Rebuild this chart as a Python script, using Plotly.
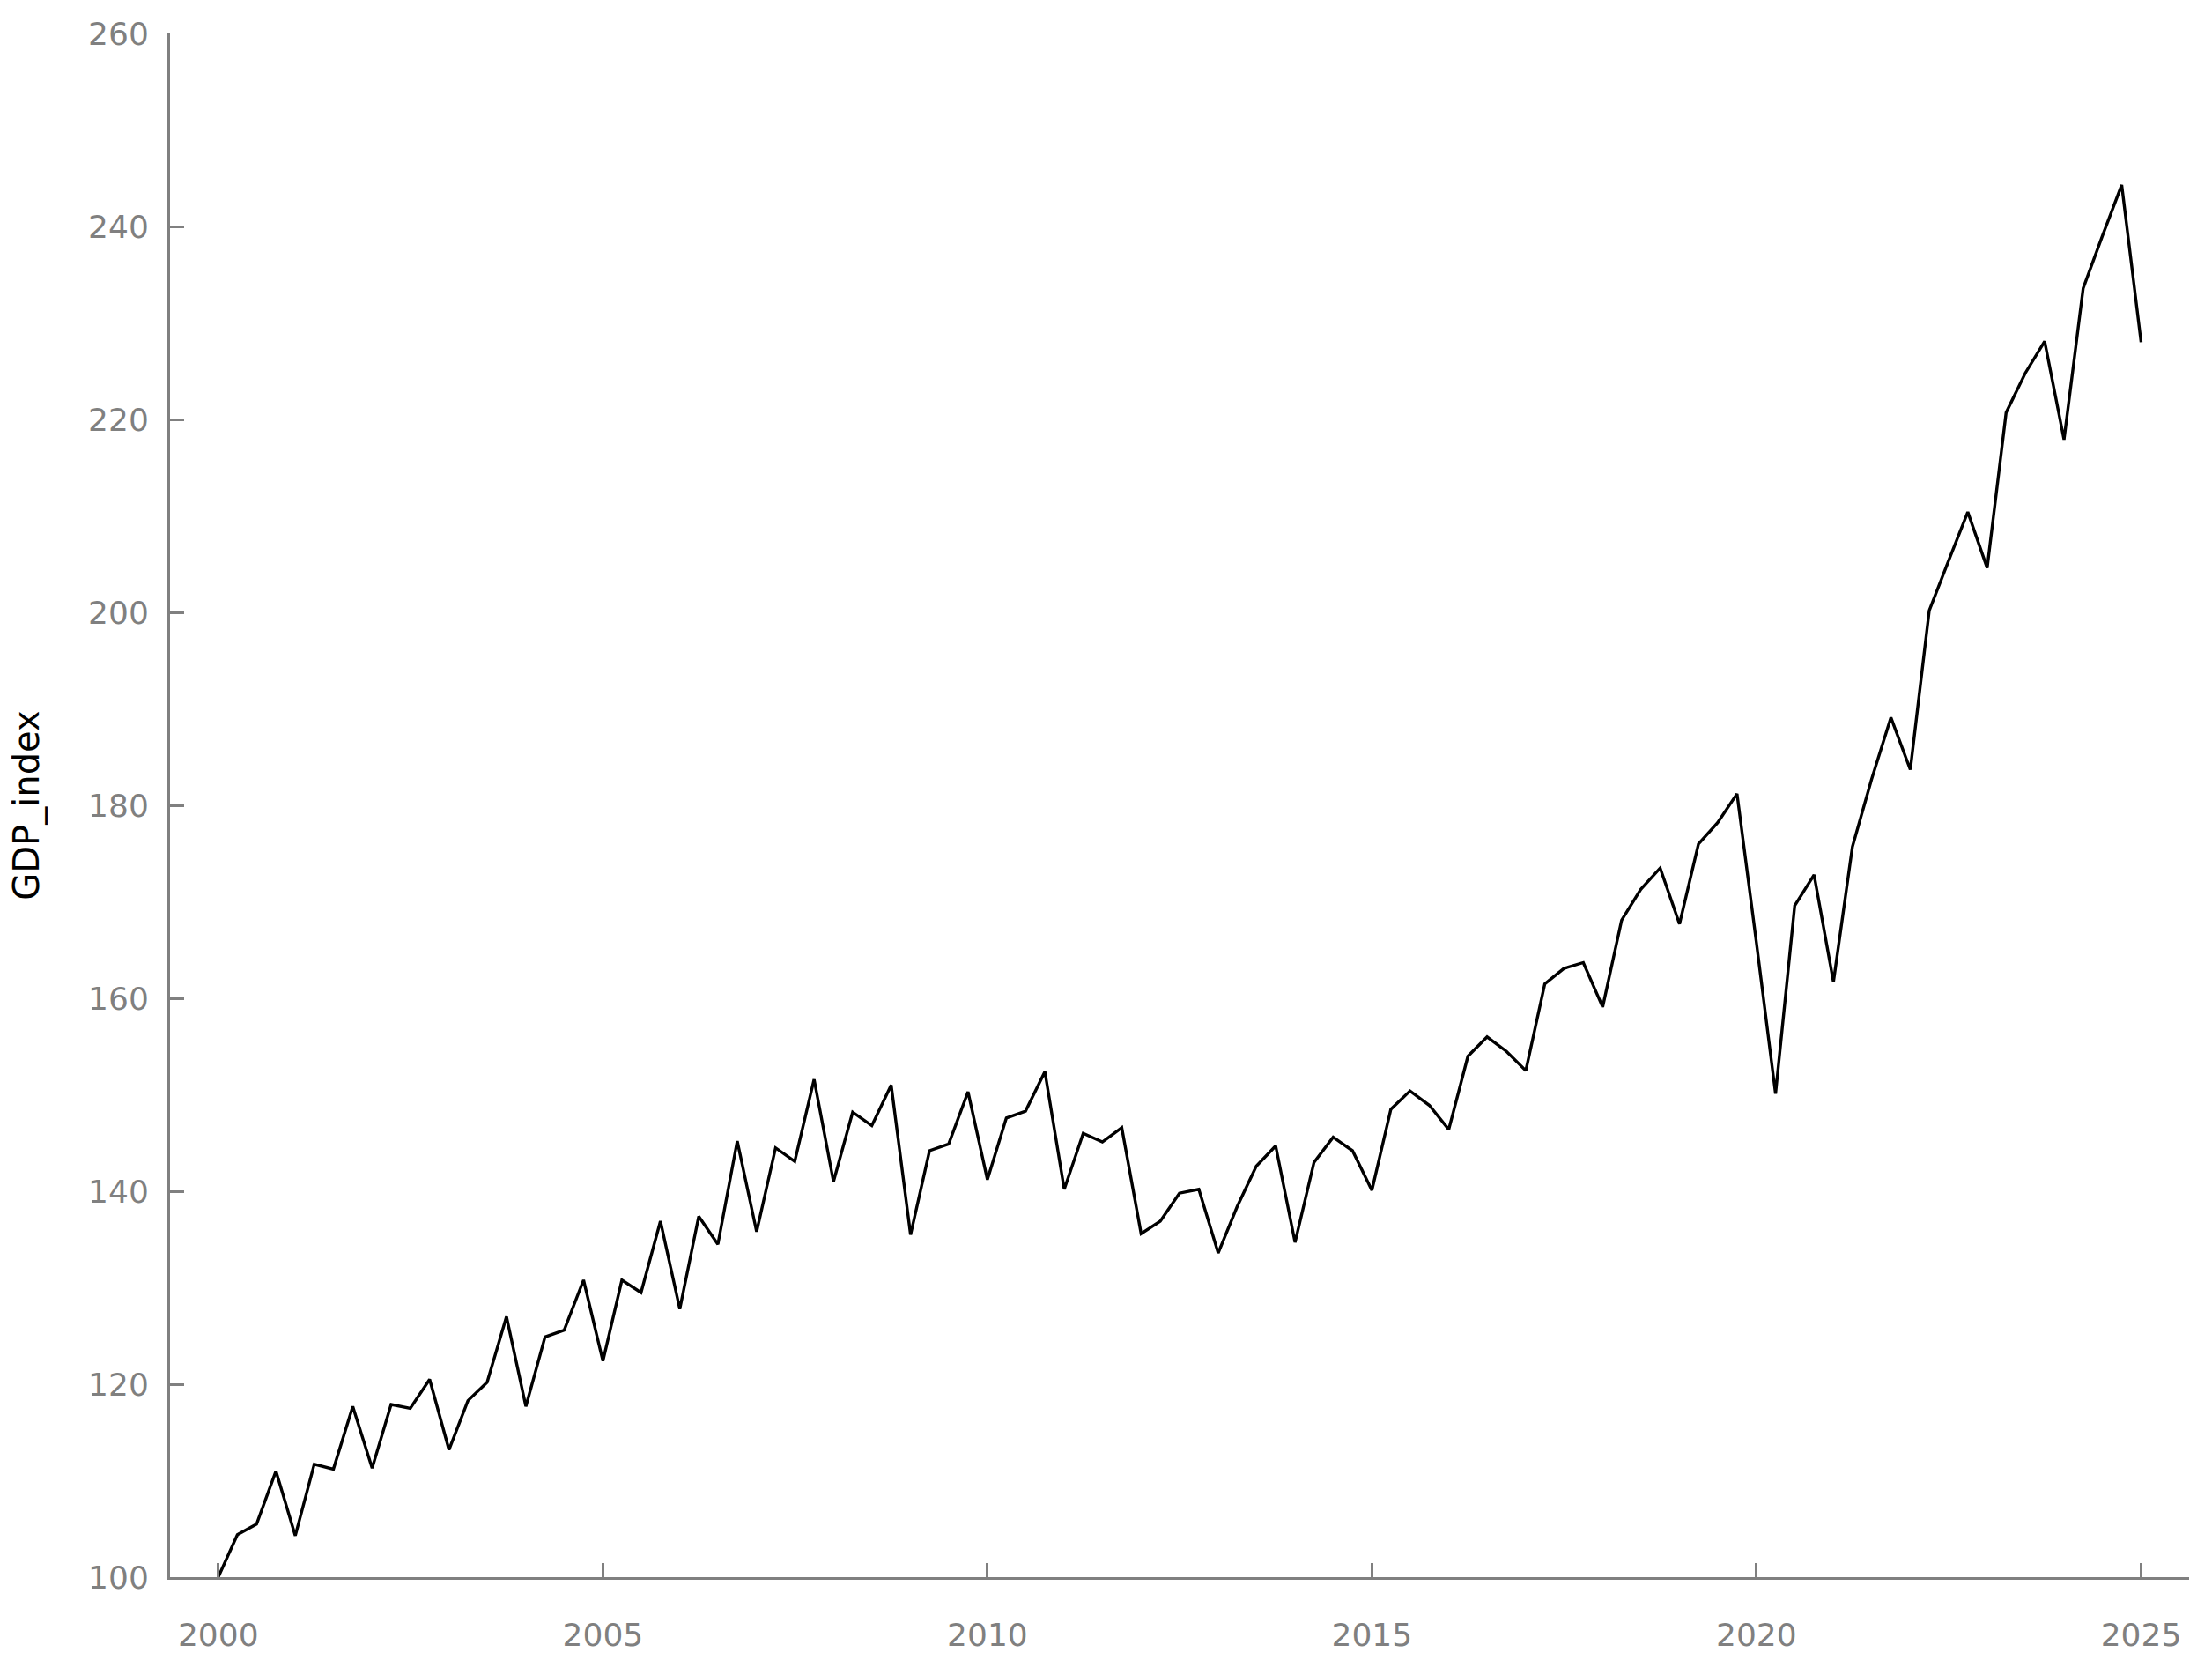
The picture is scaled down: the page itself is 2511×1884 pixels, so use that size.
import pandas as pd
import plotly.graph_objects as go

# quarterly GDP index, 2000Q1 .. 2025Q1
quarters = pd.date_range("2000-01-01", periods=101, freq="QS")
gdp_index = [
    100.0, 104.4, 105.5, 111.0, 104.3, 111.7, 111.2, 117.7, 111.3, 117.9,
    117.5, 120.5, 113.2, 118.3, 120.2, 127.0, 117.7, 124.9, 125.6, 130.8,
    122.4, 130.8, 129.5, 136.9, 127.8, 137.4, 134.5, 145.2, 135.8, 144.5,
    143.1, 151.6, 141.0, 148.2, 146.8, 151.0, 135.5, 144.2, 144.9, 150.3,
    141.2, 147.6, 148.3, 152.4, 140.2, 146.0, 145.1, 146.6, 135.6, 136.9,
    139.8, 140.2, 133.6, 138.4, 142.6, 144.7, 134.7, 143.0, 145.6, 144.2,
    140.1, 148.5, 150.4, 148.9, 146.4, 154.0, 156.0, 154.5, 152.5, 161.5,
    163.1, 163.7, 159.1, 168.1, 171.3, 173.5, 167.7, 176.0, 178.2, 181.2,
    165.8, 150.1, 169.6, 172.8, 161.7, 175.7, 182.7, 189.1, 183.7, 200.2,
    205.3, 210.4, 204.6, 220.7, 224.8, 228.1, 217.9, 233.6, 239.0, 244.3,
    228.0,
]
y_ticks = [100, 120, 140, 160, 180, 200, 220, 240, 260]

AXIS_GREY = "#808080"
FONT = "Verdana, DejaVu Sans, sans-serif"
TICK_FONT = dict(family=FONT, size=36, color=AXIS_GREY)

fig = go.Figure()
fig.add_trace(go.Scatter(x=quarters, y=gdp_index, mode="lines",
                         line=dict(color="black", width=3.4), showlegend=False))

fig.update_layout(
    width=2511, height=1884,
    margin=dict(l=193, r=26, t=38, b=94),
    plot_bgcolor="white", paper_bgcolor="white",
    font=dict(family=FONT, size=36, color=AXIS_GREY),
)
fig.update_xaxes(
    type="date", range=["1999-05-17", "2025-08-17"],
    tick0="2000-01-01", dtick="M60", tickformat="%Y",
    showgrid=False, zeroline=False, automargin=False,
    showline=True, linecolor=AXIS_GREY, linewidth=3,
    ticks="inside", ticklen=16, tickwidth=3, tickcolor=AXIS_GREY,
    tickfont=TICK_FONT, ticklabelstandoff=32,
)
fig.update_yaxes(
    range=[100, 260], tickvals=y_ticks,
    showgrid=False, zeroline=False, automargin=False,
    showline=True, linecolor=AXIS_GREY, linewidth=3,
    ticks="inside", ticklen=16, tickwidth=3, tickcolor=AXIS_GREY,
    tickfont=TICK_FONT, ticklabelstandoff=14,
    title=dict(text="GDP_index", font=dict(family=FONT, size=40, color="black"), standoff=44),
)

fig.write_html("out.html", config={"displayModeBar": False},
               post_script="document.body.style.margin='0';")
